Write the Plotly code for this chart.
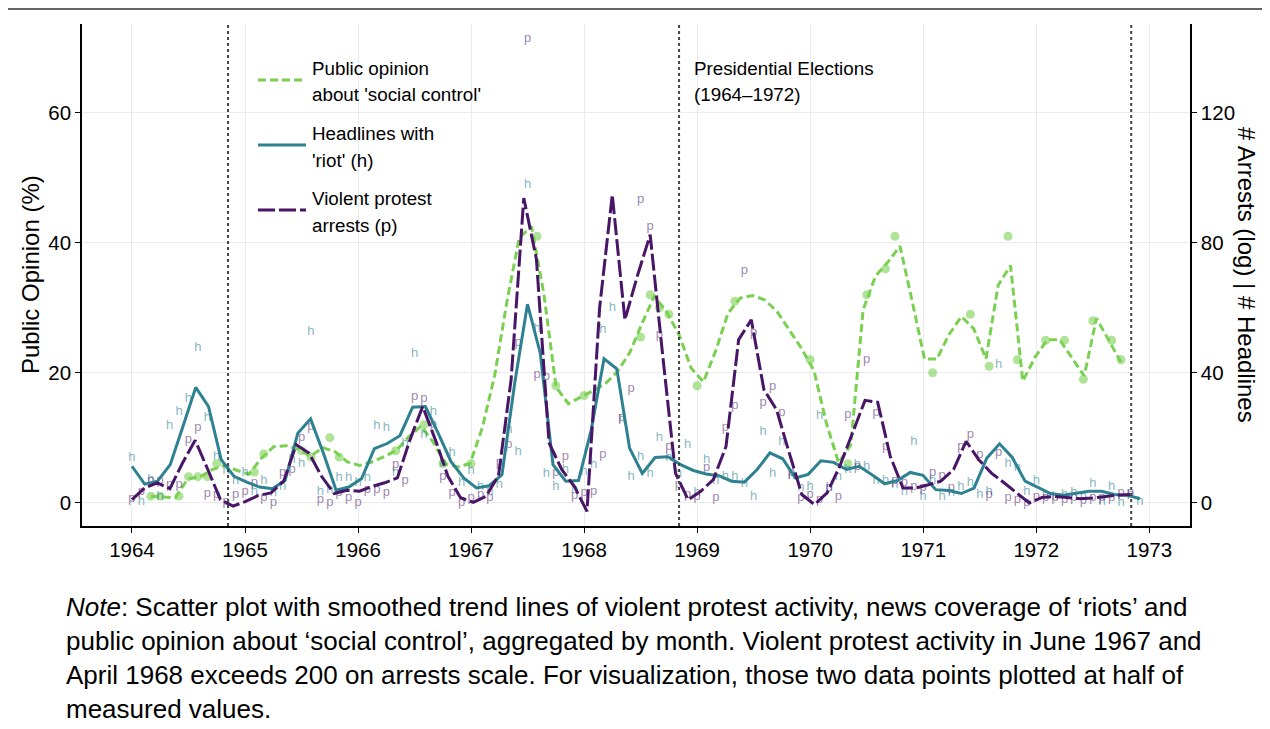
import numpy as np
import plotly.graph_objects as go

# ---------------- data ----------------
# monthly raw values, right-axis units; month index 0 = Jan 1964
headlines = [13.8, 0.4, 7.1, 1.9, 23.7, 28, 31.9, 47.6, 26.1, 14.1, 9.8, 6.6,
             9.1, 3.2, 6.6, 3.0, 5, 13.2, 11.9, 52.7, 3.2, 4, 7.6, 7.6,
             6, 7.6, 23.7, 23.0, 9.1, 18, 45.8, 20.9, 28, 12, 15.5, 6,
             9.9, 5.0, 3.5, 5.5, 22.5, 15.8, 97.8, 53.7, 8.9, 5, 10.2, 4,
             9.6, 11.7, 53.2, 60.1, 25.5, 7.9, 14.2, 8.9, 19.9, 13.8, 9, 17.8,
             3, 13.2, 6.6, 8.1, 8.1, 5.8, 1.9, 21.9, 8.9, 18.9, 8.3, 4.5,
             5, 26.8, 4.5, 8, 10.2, 11.7, 11.0, 6.6, 6.6, 5.5, 3.5, 18.9,
             1.9, 6.6, 1.7, 3.0, 4.8, 6.1, 2.5, 3.5, 42.5, 12, 10.7, 3.5,
             6.8, 2.5, 1.9, 2.5, 3.0, 1.9, 5.8, 0.4, 4.8, 0.0, 2.5, 0.4]

arrests = [1.1, 3.5, 6.6, 6.6, 5.5, 5.5, 19.4, 23.0, 2.7, 2.5, 0.4, 2.5,
           3.5, 6.2, 1.4, 0.1, 9.3, 10, 20, 23.5, 0.9, 0, 3.0, 1.4,
           0.1, 4.0, 4.0, 3.0, 11.7, 6.6, 32.5, 31.9, 24, 8.1, 3.0, 0.1,
           1.4, 2.5, 1.4, 12.2, 17.8, 49.1, 143, 39.4, 38.9, 9.1, 14.2, 2.2,
           3.0, 3.5, 14.8, 150, 26.1, 35.0, 93.3, 85, 51.7, 17.3, 5.5, 2.5,
           1.9, 10.7, 1.4, 23.0, 29.8, 71.5, 52.2, 30.9, 35.8, 27.6, 9.1, 1.4,
           2.5, 1.0, 4.5, 1.9, 27.1, 11.2, 44, 27.6, 17.3, 6.6, 6.1, 5,
           4.5, 9.3, 8.3, 4.5, 17.3, 20.9, 14.8, 2.5, 15.3, 1.4, 1.0, 0,
           1.9, 1.5, 1.5, 0.9, 1.5, 0.7, 1.4, 1.5, 1.6, 3.0, 3.0]

survey_month = [2, 3, 5, 6, 7, 8, 9, 13, 14, 18, 19, 21, 22, 28, 31, 33, 36,
                43, 45, 48, 54, 55, 56, 57, 60, 64, 72, 76, 78, 80, 81, 85,
                89, 91, 93, 94, 97, 99, 101, 102, 104, 105]
survey_value = [1, 1, 1, 4, 4, 4, 6, 4.7, 7.5, 8, 7, 10, 7, 8, 12, 6, 6,
                41, 18, 16.5, 25.5, 32, 30, 29, 18, 31, 22, 6, 32, 36, 41, 20,
                29, 21, 41, 22, 25, 25, 19, 28, 25, 22]

# smoothed trend lines (80 evaluation points each)
trend_opinion = [0.97, 0.86, 0.75, 3.65, 3.95, 5.08, 5.74, 4.98, 4.38, 6.85,
                 8.6, 8.77, 8.23, 7.14, 8.46, 7.85, 6.28, 5.72, 6.26, 7.08,
                 8.05, 10.12, 11.78, 9.31, 5.97, 5.51, 6.03, 11.58, 19.6, 31.0,
                 40.8, 42.5, 32.2, 17.8, 15.23, 16.25, 17.2, 18.3, 20.2, 23.1,
                 27.6, 31.8, 29.35, 25.9, 20.7, 18.6, 23.4, 29.2, 31.5, 31.9,
                 31.2, 29.4, 26.6, 23.7, 20.3, 12.3, 6.15, 8.9, 29.7, 34.85,
                 37.0, 39.5, 30.97, 22.1, 22.1, 25.9, 28.66, 26.8, 22.15, 33.5,
                 36.5, 18.7, 22.4, 25.08, 25.08, 22.3, 19.5, 28.4, 25.0, 21.6]
trend_headlines = [11.2, 5.7, 6.6, 11.7, 23.5, 35.5, 29.6, 13.2, 8.1, 6.3,
                   4.8, 4.3, 6.8, 21.4, 25.8, 15.3, 3.8, 4.8, 7.4, 16.6,
                   18.2, 20.6, 29.4, 29.6, 21.4, 12.7, 7.6, 4.5, 5.2, 8.6,
                   36.8, 61.1, 46.1, 11.7, 6.6, 6.8, 22.5, 44.3, 41.2, 16.8,
                   9.0, 13.9, 14.1, 11.7, 9.9, 8.8, 8.3, 6.6, 6.3, 10.2,
                   15.3, 13.5, 7.6, 8.7, 12.9, 12.4, 10.2, 11.2, 8.6, 5.8,
                   6.8, 9.3, 8.4, 4.0, 3.7, 2.8, 4.5, 13.7, 18.1, 13.9,
                   6.6, 4.8, 2.8, 2.3, 2.8, 3.5, 3.5, 2.5, 2.3, 1.2]
trend_arrests = [0.9, 4.5, 6.1, 4.3, 12.2, 19.2, 10.2, 0.9, -1.1, 0.4,
                 2.2, 3.0, 6.6, 17.8, 15.3, 8.1, 2.8, 3.8, 3.5, 5.0,
                 6.1, 7.6, 19.4, 29.6, 19.4, 8.1, 1.5, 0.1, 1.9, 8.3,
                 38, 93.8, 75, 18.4, 10.2, 5.0, -2.7, 60, 94.8, 56.3,
                 70, 82.5, 45, 9.1, 0.9, 3.5, 7.1, 17.3, 50.2, 56.3,
                 34.8, 28.6, 15.3, 2.5, -0.6, 3.0, 11.2, 21.4, 31.5, 30.9,
                 14.2, 4.5, 4.5, 5.5, 6.6, 10.2, 18.9, 13.2, 9.1, 6.1,
                 3.0, -0.1, 1.6, 1.9, 1.6, 1.2, 1.4, 1.9, 2.3, 2.5]

elections = [1964.85, 1968.84, 1972.84]
year_ticks = list(range(1964, 1974))
left_ticks = [0, 20, 40, 60]
right_ticks = [0, 40, 80, 120]

# ---------------- derived x positions ----------------
def month_to_year(m):
    return 1964 + np.asarray(m, dtype=float) / 12.0

x_h = month_to_year(np.arange(len(headlines)))
x_p = month_to_year(np.arange(len(arrests)))
x_s = month_to_year(survey_month)
x_th = np.linspace(x_h[0], x_h[-1], len(trend_headlines))
x_ta = np.linspace(x_p[0], x_p[-1], len(trend_arrests))
x_to = np.linspace(x_s[0], x_s[-1], len(trend_opinion))

GREEN = '#7AD151'
TEAL = '#2E8191'
PURPLE = '#481567'
FONT = 'Liberation Sans, Arial, Helvetica, sans-serif'

fig = go.Figure()
fig.add_trace(go.Scatter(x=x_s, y=survey_value, mode='markers', yaxis='y',
                         marker=dict(color='rgba(122,209,81,0.6)', size=9),
                         showlegend=False, hoverinfo='skip'))
fig.add_trace(go.Scatter(x=x_to, y=trend_opinion, mode='lines', yaxis='y',
                         line=dict(color=GREEN, width=3, dash='8px,4px'),
                         showlegend=False))
fig.add_trace(go.Scatter(x=x_h, y=headlines, mode='text', yaxis='y2',
                         text=['h'] * len(headlines),
                         textfont=dict(color='rgba(46,129,145,0.6)', size=13, family=FONT),
                         showlegend=False))
fig.add_trace(go.Scatter(x=x_p, y=arrests, mode='text', yaxis='y2',
                         text=['p'] * len(arrests),
                         textfont=dict(color='rgba(72,21,103,0.55)', size=13, family=FONT),
                         showlegend=False))
fig.add_trace(go.Scatter(x=x_th, y=trend_headlines, mode='lines', yaxis='y2',
                         line=dict(color=TEAL, width=3), showlegend=False))
fig.add_trace(go.Scatter(x=x_ta, y=trend_arrests, mode='lines', yaxis='y2',
                         line=dict(color=PURPLE, width=3, dash='17px,4px'),
                         showlegend=False))

# ---------------- layout geometry ----------------
# the page body adds an 8px offset; figure coordinates = page coordinates - 8
OFF = 8
W, H = 1270 - OFF, 729 - OFF
# plot area in page pixels
PL, PR, PT, PB = 82, 1190, 24, 526

def fx(p):
    return (p - PL) / (PR - PL)

def fy(p):
    return (PB - p) / (PB - PT)

axis_common = dict(showline=True, linecolor='black', linewidth=1.5,
                   ticks='outside', ticklen=5, tickwidth=1.2, tickcolor='black',
                   tickfont=dict(size=20.5, color='black', family=FONT),
                   zeroline=False)

shapes = []
for e in elections:
    shapes.append(dict(type='line', xref='x', yref='paper', x0=e, x1=e, y0=0, y1=1,
                       line=dict(color='#444444', width=2, dash='dot'), layer='above'))
# legend keys
for ypix, col, dash in [(80, GREEN, '8px,4px'), (145, TEAL, 'solid'), (210, PURPLE, '17px,4px')]:
    shapes.append(dict(type='line', xref='paper', yref='paper', x0=fx(258), x1=fx(306),
                       y0=fy(ypix), y1=fy(ypix), line=dict(color=col, width=3, dash=dash)))
# page frame (top rule)
shapes.append(dict(type='line', xref='paper', yref='paper', x0=fx(8), x1=fx(1275),
                   y0=fy(9), y1=fy(9), line=dict(color='#666666', width=2)))

annotations = []
legend_lines = [("Public opinion", 68), ("about 'social control'", 95),
                ("Headlines with", 133), ("'riot' (h)", 160),
                ("Violent protest", 198), ("arrests (p)", 225)]
for txt, ypix in legend_lines:
    annotations.append(dict(text=txt, xref='paper', yref='paper', x=fx(310), y=fy(ypix),
                            xanchor='left', yanchor='middle', showarrow=False,
                            font=dict(size=18.8, color='black', family=FONT)))
for txt, ypix in [("Presidential Elections", 68), ("(1964\u20131972)", 95)]:
    annotations.append(dict(text=txt, xref='paper', yref='paper', x=fx(692), y=fy(ypix),
                            xanchor='left', yanchor='middle', showarrow=False,
                            font=dict(size=18.8, color='black', family=FONT)))
annotations.append(dict(text='Public Opinion (%)', xref='paper', yref='paper',
                        x=fx(30), y=0.5, textangle=-90, showarrow=False,
                        xanchor='center', yanchor='middle',
                        font=dict(size=24, color='black', family=FONT)))
annotations.append(dict(text='# Arrests (log) | # Headlines', xref='paper', yref='paper',
                        x=fx(1247), y=0.5, textangle=90, showarrow=False,
                        xanchor='center', yanchor='middle',
                        font=dict(size=24, color='black', family=FONT)))
note_lines = [
    "<i>Note</i>: Scatter plot with smoothed trend lines of violent protest activity, news coverage of \u2018riots\u2019 and",
    "public opinion about \u2018social control\u2019, aggregated by month. Violent protest activity in June 1967 and",
    "April 1968 exceeds 200 on arrests scale. For visualization, those two data points plotted at half of",
    "measured values.",
]
for i, txt in enumerate(note_lines):
    annotations.append(dict(text=txt, xref='paper', yref='paper', x=fx(64), y=fy(607 + 34 * i),
                            xanchor='left', yanchor='middle', showarrow=False,
                            font=dict(size=26, color='black', family=FONT)))

fig.update_layout(
    width=W, height=H, autosize=False,
    margin=dict(l=PL - OFF, r=W - (PR - OFF), t=PT - OFF, b=H - (PB - OFF), pad=0),
    paper_bgcolor='white', plot_bgcolor='white',
    showlegend=False,
    xaxis=dict(range=[1963.558, 1973.36], tickvals=year_ticks,
               showgrid=True, gridcolor='#EBEBEB', gridwidth=1, **axis_common),
    yaxis=dict(range=[-3.6, 73.7], tickvals=left_ticks,
               showgrid=True, gridcolor='#EBEBEB', gridwidth=1, **axis_common),
    yaxis2=dict(range=[-7.2, 147.4], tickvals=right_ticks, overlaying='y', side='right',
                showgrid=False, **axis_common),
    shapes=shapes,
    annotations=annotations,
)

fig.write_html("out.html")
